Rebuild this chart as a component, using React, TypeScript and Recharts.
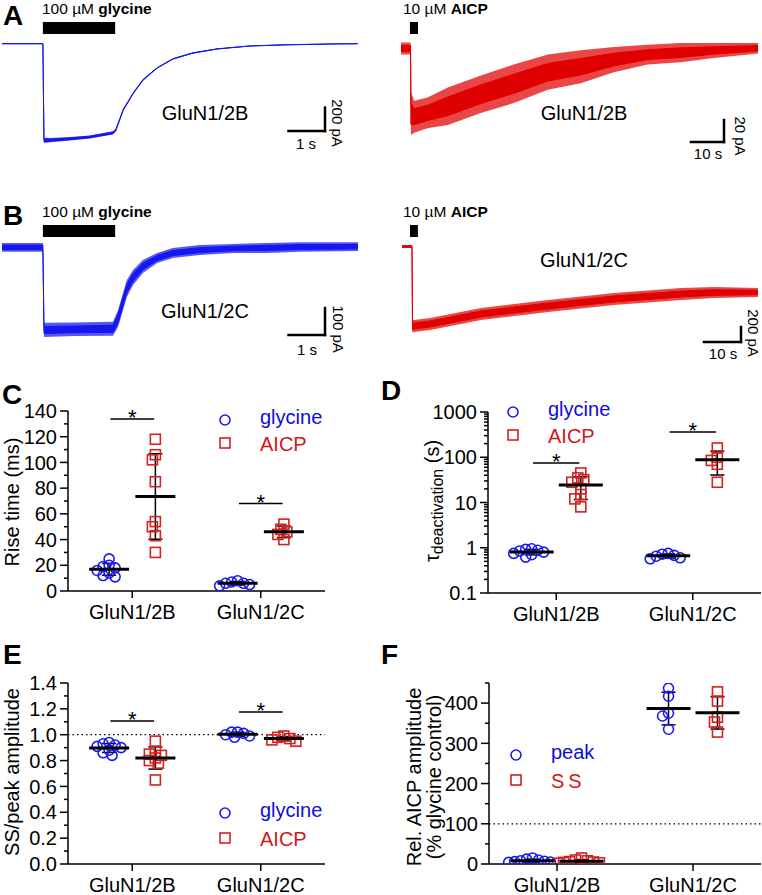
import React from "react";
import {
  ComposedChart, ScatterChart, Scatter, Area, XAxis, YAxis,
  ReferenceLine, ReferenceArea, ErrorBar,
} from "recharts";

const FONT = '"Liberation Sans", Arial, Helvetica, sans-serif';
const TRACE_BLUE = "#1616ee";
const TRACE_RED = "#e00000";
const DOT_BLUE = "#1a1af0";
const DOT_RED = "#d42222";
const TXT_BLUE = "#0c0ce0";
const TXT_RED = "#d01818";

// ---------- traces: time (s), lower / upper edge of the noisy current (pA) ----------
const glyBTime = [0, 1.12, 1.15, 1.32, 1.86, 2.41, 3.04, 3.12, 3.32, 3.6, 3.86, 4.25, 4.68, 5.23, 5.89, 6.79, 7.7, 9.07, 9.75];
const glyBLow = [-2, -2, -850, -845, -830, -812, -778, -750, -574, -428, -317, -211, -134, -83, -47, -21, -11, -3, -1];
const glyBHigh = [2, 2, -805, -808, -800, -786, -750, -728, -561, -417, -305, -204, -127, -76, -43, -18, -9, -1, 1];

const aicpBTime = [0, 2.9, 3.0, 4, 8, 14.2, 24.2, 34.2, 44.5, 54.5, 64.5, 74.8, 84.8, 94.8, 108.2];
const aicpBLow = [-6, -6, -79, -77, -73, -70, -59, -50, -38, -32, -22, -15, -13, -9, -5];
const aicpBHigh = [5, 5, -40, -48, -45, -36, -25, -15, -6, -2, 1, 3, 4.5, 4.5, 4.5];

const glyCTime = [0, 1.12, 1.15, 2.0, 3.04, 3.18, 3.42, 3.59, 3.86, 4.25, 4.68, 5.42, 6.33, 7.26, 8.16, 9.75];
const glyCLow = [-18, -18, -333, -330, -329, -296, -185, -141, -96, -59, -41, -30, -22, -22, -18, -15];
const glyCHigh = [15, 15, -281, -280, -277, -233, -122, -85, -48, -22, -4, 7, 11, 15, 18, 18];

const aicpCTime = [0, 2.7, 2.84, 3.24, 7.6, 21.4, 39.5, 57.3, 75.4, 84.3, 96.2];
const aicpCLow = [-20, -20, -1153, -1140, -1113, -980, -873, -780, -713, -687, -673];
const aicpCHigh = [20, 20, -980, -980, -953, -820, -713, -620, -553, -540, -553];

// drug application windows (s)
const glyApp = [1.12, 3.1];
const aicpAppB = [2.7, 5.15];
const aicpAppC = [2.16, 4.3];

// ---------- summary data ----------
const categories = ["GluN1/2B", "GluN1/2C"];

const riseGly2B = [25, 20, 19, 18, 16, 14, 12, 11];
const riseAicp2B = [118, 106, 102, 85, 54, 50, 43, 30];
const riseGly2C = [8, 7, 6, 6, 5, 4];
const riseAicp2C = [52, 48, 46, 44, 40];

const tauGly2B = [0.95, 0.92, 0.88, 0.85, 0.8, 0.75, 0.7, 0.62];
const tauAicp2B = [45, 35, 32, 28, 20, 15, 12, 8];
const tauGly2C = [0.75, 0.72, 0.68, 0.65, 0.6, 0.57];
const tauAicp2C = [160, 100, 85, 70, 28];

const ssGly2B = [0.94, 0.93, 0.92, 0.91, 0.9, 0.88, 0.86, 0.84];
const ssAicp2B = [0.95, 0.87, 0.85, 0.84, 0.82, 0.8, 0.78, 0.65];
const ssGly2C = [1.02, 1.02, 1.01, 1.0, 0.99, 0.98];
const ssAicp2C = [0.99, 0.98, 0.97, 0.96, 0.95];

const relPeak2B = [15, 12, 10, 8, 7, 6, 5, 4];
const relSs2B = [15, 10, 8, 6, 5, 4, 3, 2];
const relPeak2C = [437, 417, 375, 368, 335];
const relSs2C = [428, 405, 365, 353, 328];

// significance bars (y value)
const riseSig = [133.7, 68];
const tauSig = [75, 363];
const ssSig = [1.106, 1.176];

const riseTicks = [0, 20, 40, 60, 80, 100, 120, 140];
const tauTicks = [0.1, 1, 10, 100, 1000];
const ssTicks = [0, 0.2, 0.4, 0.6, 0.8, 1.0, 1.2, 1.4];
const relTicks = [0, 100, 200, 300, 400];

// ---------- helpers ----------
const mean = (a: number[]) => a.reduce((s, v) => s + v, 0) / a.length;
const sd = (a: number[]) => {
  const m = mean(a);
  return Math.sqrt(a.reduce((s, v) => s + (v - m) * (v - m), 0) / (a.length - 1));
};

// simple beeswarm so points with close values sit side by side
function swarm(values: number[], center: number, toPx: (v: number) => number, pxPerX: number) {
  const placed: { px: number; py: number }[] = [];
  const out: { x: number; y: number }[] = [];
  const order = values.map((_, i) => i).sort((a, b) => values[b] - values[a]);
  for (const i of order) {
    const py = toPx(values[i]);
    let best = 0;
    for (let k = 0; k < 30; k++) {
      const off = k === 0 ? 0 : (k % 2 ? -1 : 1) * Math.ceil(k / 2) * 3;
      if (placed.every((p) => Math.hypot(p.px - off, p.py - py) >= 5.5)) { best = off; break; }
    }
    placed.push({ px: best, py });
    out.push({ x: center + best / pxPerX, y: values[i] });
  }
  return out;
}

const midRange = (lo: number, hi: number, step: number) => {
  const r: number[] = [];
  for (let v = lo; v <= hi + 1e-9; v += step) r.push(+v.toFixed(4));
  return r;
};

function makeYTick(majors: number[], fmt: (v: number) => string) {
  return (p: any) => {
    const v = p.payload.value;
    const major = majors.some((m) => Math.abs(m - v) < 1e-9 * Math.max(1, m));
    return (
      <g>
        <line x1={p.x} x2={p.x - (major ? 8 : 4)} y1={p.y} y2={p.y} stroke="#000" strokeWidth={1.5} />
        {major && (
          <text x={p.x - 11} y={p.y} dy="0.36em" textAnchor="end" fontSize={20} fill="#000">
            {fmt(v)}
          </text>
        )}
      </g>
    );
  };
}

const circleShape = (p: any) => (
  <circle cx={p.cx} cy={p.cy} r={5} fill="none" stroke={DOT_BLUE} strokeWidth={1.6} />
);
const squareShape = (p: any) => (
  <rect x={p.cx - 5} y={p.cy - 5} width={10} height={10} fill="none" stroke={DOT_RED} strokeWidth={1.6} />
);
const meanShape = (half: number) => (p: any) => (
  <line x1={p.cx - half} x2={p.cx + half} y1={p.cy} y2={p.cy} stroke="#000" strokeWidth={3} />
);
const starLabel = (p: any) => {
  const vb = p.viewBox;
  return (
    <text x={vb.x + vb.width / 2} y={vb.y + 6} textAnchor="middle" fontSize={22} fill="#000">*</text>
  );
};

const OFF = 0.18;

type DotProps = {
  left: number; top: number; w: number; h: number;
  margin: { top: number; right: number; bottom: number; left: number };
  yW: number; xH: number;
  domain: [number, number]; log?: boolean;
  ticks: number[]; majors: number[]; fmt: (v: number) => string;
  gly: number[][]; aicp: number[][];
  toPx: (v: number) => number; pxPerX: number;
  sig?: number[]; dotted?: number; half: number;
};

function DotPanel(p: DotProps) {
  const cats = [0.5, 1.5];
  const glyPts = cats.flatMap((c, i) => swarm(p.gly[i], c - OFF, p.toPx, p.pxPerX));
  const aicpPts = cats.flatMap((c, i) => swarm(p.aicp[i], c + OFF, p.toPx, p.pxPerX));
  const means = cats.flatMap((c, i) => [
    { x: c - OFF, y: mean(p.gly[i]), err: sd(p.gly[i]) },
    { x: c + OFF, y: mean(p.aicp[i]), err: sd(p.aicp[i]) },
  ]);
  return (
    <div style={{ position: "absolute", left: p.left, top: p.top }}>
      <ScatterChart width={p.w} height={p.h} margin={p.margin}>
        <XAxis
          type="number" dataKey="x" domain={[0, 2]} ticks={cats} interval={0} allowDataOverflow
          tickFormatter={(v: number) => (v < 1 ? categories[0] : categories[1])}
          tick={{ fontSize: 20, fill: "#000" }} tickSize={7} tickMargin={7} height={p.xH}
          tickLine={{ stroke: "#000", strokeWidth: 1.5 }} axisLine={{ stroke: "#000", strokeWidth: 1.5 }}
        />
        <YAxis
          type="number" dataKey="y" domain={p.domain} scale={p.log ? "log" : "linear"}
          ticks={p.ticks} interval={0} width={p.yW} allowDataOverflow
          tick={makeYTick(p.majors, p.fmt)} tickLine={false} tickSize={0} tickMargin={0}
          axisLine={{ stroke: "#000", strokeWidth: 1.5 }}
        />
        {p.dotted != null && (
          <ReferenceLine y={p.dotted} stroke="#000" strokeWidth={1.3} strokeDasharray="1.5 3" />
        )}
        {p.sig && p.sig.map((y, i) => (
          <ReferenceLine key={i} segment={[{ x: cats[i] - 0.17, y }, { x: cats[i] + 0.17, y }]}
            stroke="#000" strokeWidth={1.5} label={starLabel} />
        ))}
        <Scatter data={glyPts} shape={circleShape} isAnimationActive={false} />
        <Scatter data={aicpPts} shape={squareShape} isAnimationActive={false} />
        <Scatter data={means} shape={meanShape(p.half)} isAnimationActive={false}>
          <ErrorBar dataKey="err" direction="y" width={7} stroke="#000" strokeWidth={1.5} />
        </Scatter>
      </ScatterChart>
    </div>
  );
}

type TraceProps = {
  left: number; top: number; w: number; h: number;
  x0: number; y0: number; pxS: number; pxU: number; color: string;
  time: number[]; low: number[]; high: number[];
  app: number[]; barPx: [number, number];
  corner: [number, number]; sT: number; sU: number;
};

function TracePanel(p: TraceProps) {
  // outer band = full noise envelope, core = central part of it
  const data = p.time.map((t, i) => {
    const lo = p.low[i], hi = p.high[i], q = (hi - lo) * 0.25;
    return { t, band: [lo, hi], core: [lo + q, hi - q] };
  });
  const toT = (px: number) => (px - p.x0) / p.pxS;
  const toU = (py: number) => (p.y0 - py) / p.pxU;
  const cx = toT(p.corner[0]);
  const cy = toU(p.corner[1]);
  return (
    <div style={{ position: "absolute", left: p.left, top: p.top }}>
      <ComposedChart width={p.w} height={p.h} data={data} margin={{ top: 0, right: 0, bottom: 0, left: 0 }}>
        <XAxis type="number" dataKey="t" hide allowDataOverflow domain={[toT(0), toT(p.w)]} />
        <YAxis type="number" hide allowDataOverflow domain={[toU(p.h), toU(0)]} />
        <ReferenceArea x1={p.app[0]} x2={p.app[1]} y1={toU(p.barPx[1])} y2={toU(p.barPx[0])}
          fill="#000" fillOpacity={1} stroke="none" />
        <Area type="linear" dataKey="band" stroke="none" fill={p.color} fillOpacity={0.72}
          dot={false} activeDot={false} isAnimationActive={false} />
        <Area type="linear" dataKey="core" stroke={p.color} strokeWidth={1} fill={p.color}
          fillOpacity={1} dot={false} activeDot={false} isAnimationActive={false} />
        <ReferenceLine segment={[{ x: cx - p.sT, y: cy }, { x: cx, y: cy }]}
          stroke="#000" strokeWidth={2.5} strokeLinecap="square" />
        <ReferenceLine segment={[{ x: cx, y: cy }, { x: cx, y: cy + p.sU }]}
          stroke="#000" strokeWidth={2.5} strokeLinecap="square" />
      </ComposedChart>
    </div>
  );
}

// text placed by cap centre
function T(props: {
  x: number; y: number; fs?: number; anchor?: "start" | "middle"; color?: string;
  bold?: boolean; rot?: number; children: React.ReactNode; ls?: number;
}) {
  const fs = props.fs ?? 20;
  const style: React.CSSProperties = {
    position: "absolute", fontSize: fs, lineHeight: 1, whiteSpace: "nowrap",
    color: props.color ?? "#000", fontWeight: props.bold ? "bold" : "normal",
    letterSpacing: props.ls,
  };
  if (props.rot) {
    style.left = props.x; style.top = props.y;
    style.transform = `translate(-50%, -50%) rotate(${props.rot}deg)`;
    style.textAlign = "center";
  } else {
    style.top = props.y - 0.49 * fs;
    style.left = props.x;
    if (props.anchor === "middle") style.transform = "translateX(-50%)";
  }
  return <div style={style}>{props.children}</div>;
}

function Mark({ x, y, kind }: { x: number; y: number; kind: "c" | "s" }) {
  return (
    <svg width={14} height={14} style={{ position: "absolute", left: x - 7, top: y - 7 }}>
      {kind === "c"
        ? <circle cx={7} cy={7} r={5} fill="none" stroke={DOT_BLUE} strokeWidth={1.6} />
        : <rect x={2} y={2} width={10} height={10} fill="none" stroke={DOT_RED} strokeWidth={1.6} />}
    </svg>
  );
}

function Legend2({ x, y1, y2, tx, a, b }: { x: number; y1: number; y2: number; tx: number; a: string; b: string }) {
  return (
    <>
      <Mark x={x} y={y1} kind="c" />
      <Mark x={x} y={y2} kind="s" />
      <T x={tx} y={y1 - 3} color={TXT_BLUE}>{a}</T>
      <T x={tx} y={y2 + 1} color={TXT_RED} ls={b === "SS" ? 4 : undefined}>{b}</T>
    </>
  );
}

export default function App() {
  const fmtInt = (v: number) => String(v);
  return (
    <div style={{
      position: "absolute", left: 0, top: 0, width: 762, height: 895,
      background: "#fff", overflow: "hidden", fontFamily: FONT,
    }}>
      {/* traces */}
      <TracePanel left={0} top={0} w={381} h={170} x0={2} y0={43.7} pxS={36.5} pxU={0.1167}
        color={TRACE_BLUE} time={glyBTime} low={glyBLow} high={glyBHigh}
        app={glyApp} barPx={[22, 34]} corner={[325, 131]} sT={1} sU={200} />
      <TracePanel left={381} top={0} w={381} h={170} x0={20} y0={48} pxS={3.3} pxU={1.1}
        color={TRACE_RED} time={aicpBTime} low={aicpBLow} high={aicpBHigh}
        app={aicpAppB} barPx={[22, 34]} corner={[343, 142]} sT={10} sU={20} />
      <TracePanel left={0} top={170} w={381} h={200} x0={2} y0={77} pxS={36.5} pxU={0.27}
        color={TRACE_BLUE} time={glyCTime} low={glyCLow} high={glyCHigh}
        app={glyApp} barPx={[55, 67]} corner={[325, 165]} sT={1} sU={100} />
      <TracePanel left={381} top={170} w={381} h={200} x0={21} y0={76.5} pxS={3.7} pxU={0.075}
        color={TRACE_RED} time={aicpCTime} low={aicpCLow} high={aicpCHigh}
        app={aicpAppC} barPx={[55, 67]} corner={[360, 172]} sT={10} sU={200} />

      {/* C */}
      <DotPanel left={0} top={380} w={381} h={250} margin={{ top: 31, right: 56, bottom: 4, left: 8 }}
        yW={60} xH={35} domain={[0, 140]} ticks={midRange(0, 140, 10)} majors={riseTicks} fmt={fmtInt}
        gly={[riseGly2B, riseGly2C]} aicp={[riseAicp2B, riseAicp2C]}
        toPx={(v) => v * 1.286} pxPerX={128.5} sig={riseSig} half={20} />
      {/* D */}
      <DotPanel left={381} top={380} w={381} h={250} margin={{ top: 32, right: 1, bottom: 2, left: 7 }}
        yW={100} xH={35} domain={[0.1, 1000]} log
        ticks={tauTicks.slice(0, 4).flatMap((d) => [1, 2, 3, 4, 5, 6, 7, 8, 9].map((k) => d * k)).concat([1000])}
        majors={tauTicks} fmt={(v) => String(+v.toPrecision(3))}
        gly={[tauGly2B, tauGly2C]} aicp={[tauAicp2B, tauAicp2C]}
        toPx={(v) => Math.log10(v) * 45.3} pxPerX={136.5} sig={tauSig} half={22} />
      {/* E */}
      <DotPanel left={0} top={640} w={381} h={255} margin={{ top: 43, right: 56, bottom: 0, left: 8 }}
        yW={60} xH={31} domain={[0, 1.4]} ticks={midRange(0, 1.4, 0.1)} majors={ssTicks}
        fmt={(v) => v.toFixed(1)}
        gly={[ssGly2B, ssGly2C]} aicp={[ssAicp2B, ssAicp2C]}
        toPx={(v) => v * 129.3} pxPerX={128.5} sig={ssSig} dotted={1} half={20} />
      {/* F */}
      <DotPanel left={381} top={640} w={381} h={255} margin={{ top: 43, right: 1, bottom: 0, left: 8 }}
        yW={100} xH={31} domain={[0, 450]} ticks={midRange(0, 450, 50)} majors={relTicks} fmt={fmtInt}
        gly={[relPeak2B, relPeak2C]} aicp={[relSs2B, relSs2C]}
        toPx={(v) => v * 0.4} pxPerX={136.5} dotted={100} half={22} />

      {/* panel letters */}
      <T x={3} y={16} fs={28} bold>A</T>
      <T x={3} y={216} fs={28} bold>B</T>
      <T x={2} y={395} fs={28} bold>C</T>
      <T x={381} y={391} fs={28} bold>D</T>
      <T x={3} y={655} fs={28} bold>E</T>
      <T x={381} y={655} fs={28} bold>F</T>

      {/* drug labels */}
      <T x={42} y={9} fs={15.5}>100 µM <b>glycine</b></T>
      <T x={403} y={9} fs={15.5}>10 µM <b>AICP</b></T>
      <T x={42} y={212} fs={15.5}>100 µM <b>glycine</b></T>
      <T x={403} y={212} fs={15.5}>10 µM <b>AICP</b></T>

      {/* trace labels */}
      <T x={205} y={113} anchor="middle">GluN1/2B</T>
      <T x={584} y={113} anchor="middle">GluN1/2B</T>
      <T x={205} y={311} anchor="middle">GluN1/2C</T>
      <T x={584} y={260} anchor="middle">GluN1/2C</T>

      {/* scale bar labels */}
      <T x={306} y={143} fs={15} anchor="middle">1 s</T>
      <T x={337} y={123} fs={15} rot={90}>200 pA</T>
      <T x={708} y={153} fs={15} anchor="middle">10 s</T>
      <T x={740} y={136} fs={15} rot={90}>20 pA</T>
      <T x={307} y={349} fs={15} anchor="middle">1 s</T>
      <T x={338} y={329} fs={15} rot={90}>100 pA</T>
      <T x={723} y={353} fs={15} anchor="middle">10 s</T>
      <T x={753} y={333} fs={15} rot={90}>200 pA</T>

      {/* axis titles */}
      <T x={12} y={502} rot={-90}>Rise time (ms)</T>
      <T x={434} y={501} rot={-90}>
        τ<span style={{ fontSize: 16, verticalAlign: "-0.3em" }}>deactivation</span> (s)
      </T>
      <T x={12} y={772} rot={-90}>SS/peak amplitude</T>
      <T x={424} y={777} rot={-90}>
        <div>Rel. AICP amplitude</div>
        <div>(% glycine control)</div>
      </T>

      {/* legends */}
      <Legend2 x={225} y1={420} y2={443} tx={260} a="glycine" b="AICP" />
      <Legend2 x={513} y1={412} y2={435} tx={548} a="glycine" b="AICP" />
      <Legend2 x={225} y1={813} y2={838} tx={260} a="glycine" b="AICP" />
      <Legend2 x={516} y1={755} y2={780} tx={551} a="peak" b="SS" />
    </div>
  );
}
